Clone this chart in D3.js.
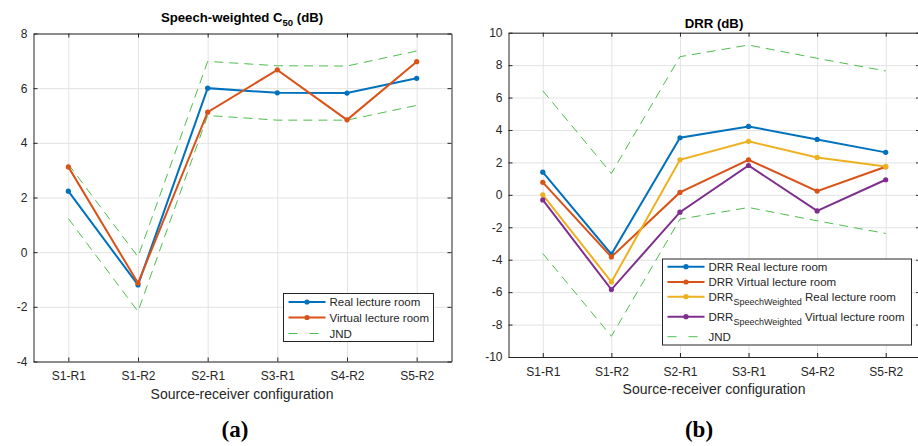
<!DOCTYPE html>
<html>
<head>
<meta charset="utf-8">
<script src="https://cdn.jsdelivr.net/npm/d3@7"></script>
<style>
  body { margin: 0; background: #fff; }
  svg { display: block; }
</style>
</head>
<body>
<svg id="chart" width="918" height="446" font-family="'Liberation Sans', Arial, Helvetica, sans-serif"></svg>
<script>
// ---------- data ----------
const categories = ["S1-R1", "S1-R2", "S2-R1", "S3-R1", "S4-R2", "S5-R2"];

// (a) Speech-weighted C50 (dB)
const c50Real    = [2.23, -1.20, 6.00, 5.83, 5.82, 6.36];
const c50Virtual = [3.12, -1.13, 5.12, 6.67, 4.84, 6.97];
const c50JndUpper = [3.22, -0.17, 6.98, 6.82, 6.81, 7.36];
const c50JndLower = [1.23, -2.17, 5.00, 4.83, 4.83, 5.37];
const c50Ticks = [-4, -2, 0, 2, 4, 6, 8];

// (b) DRR (dB)
const drrReal      = [1.40, -3.66, 3.52, 4.22, 3.42, 2.62];
const drrVirtual   = [0.77, -3.83, 0.15, 2.16, 0.23, 1.73];
const drrSwReal    = [0.00, -5.37, 2.16, 3.30, 2.31, 1.75];
const drrSwVirtual = [-0.31, -5.84, -1.07, 1.81, -0.99, 0.93];
const drrJndUpper  = [6.42, 1.32, 8.52, 9.24, 8.42, 7.64];
const drrJndLower  = [-3.62, -8.72, -1.50, -0.78, -1.60, -2.38];
const drrTicks = [-10, -8, -6, -4, -2, 0, 2, 4, 6, 8, 10];

const colors = { blue: "#0072BD", orange: "#D95319", yellow: "#EDB120", purple: "#7E2F8E", green: "#4DBE4D" };
const ink = "#262626";
const sans = "'Liberation Sans', Arial, Helvetica, sans-serif";
const serif = "'Liberation Serif', 'DejaVu Serif', serif";

const svg = d3.select("#chart");

function panel(opt) {
  const { x0, x1, y0, y1, yDomain, yTicks, series, jnd } = opt;
  const x = d3.scaleLinear().domain([0.5, categories.length + 0.5]).range([x0, x1]);
  const y = d3.scaleLinear().domain(yDomain).range([y1, y0]);
  const w = x1 - x0, h = y1 - y0;
  const g = svg.append("g");

  // grid
  const gg = g.append("g");
  gg.append("g").attr("transform", `translate(${x0},0)`)
    .call(d3.axisLeft(y).tickValues(yTicks).tickSize(-w).tickFormat(""))
    .call(s => s.select(".domain").remove())
    .selectAll("line").attr("stroke", "#e3e3e3");
  gg.append("g").attr("transform", `translate(0,${y1})`)
    .call(d3.axisBottom(x).tickValues(d3.range(1, categories.length + 1)).tickSize(-h).tickFormat(""))
    .call(s => s.select(".domain").remove())
    .selectAll("line").attr("stroke", "#e3e3e3");

  // axes (inward ticks)
  const axL = g.append("g").attr("transform", `translate(${x0},0)`)
    .call(d3.axisLeft(y).tickValues(yTicks).tickSizeInner(-4).tickSizeOuter(0).tickPadding(6).tickFormat(d => String(d)));
  const axR = g.append("g").attr("transform", `translate(${x1},0)`)
    .call(d3.axisRight(y).tickValues(yTicks).tickSizeInner(-4).tickSizeOuter(0).tickFormat(""));
  const axB = g.append("g").attr("transform", `translate(0,${y1})`)
    .call(d3.axisBottom(x).tickValues(d3.range(1, categories.length + 1)).tickSizeInner(-4).tickSizeOuter(0).tickPadding(10)
      .tickFormat(d => categories[d - 1]));
  const axT = g.append("g").attr("transform", `translate(0,${y0})`)
    .call(d3.axisTop(x).tickValues(d3.range(1, categories.length + 1)).tickSizeInner(-4).tickSizeOuter(0).tickFormat(""));
  [axL, axR, axB, axT].forEach(a => {
    a.attr("font-family", sans).attr("font-size", 12);
    a.select(".domain").attr("stroke", ink).attr("stroke-width", 1);
    a.selectAll(".tick line").attr("stroke", ink);
    a.selectAll(".tick text").attr("fill", ink);
  });

  const line = d3.line().x((d, i) => x(i + 1)).y(d => y(d));

  // JND
  jnd.forEach(arr => {
    g.append("path").datum(arr).attr("d", line).attr("fill", "none")
      .attr("stroke", colors.green).attr("stroke-width", 1).attr("stroke-dasharray", "9,6");
  });
  // series
  series.forEach(s => {
    g.append("path").datum(s.values).attr("d", line).attr("fill", "none")
      .attr("stroke", s.color).attr("stroke-width", 2);
    g.selectAll(null).data(s.values).enter().append("circle")
      .attr("cx", (d, i) => x(i + 1)).attr("cy", d => y(d)).attr("r", 2.6)
      .attr("fill", s.color);
  });
  return { x, y, g };
}

// ---------- panel (a) ----------
panel({
  x0: 33.5, x1: 451.5, y0: 33.5, y1: 361.5, yDomain: [-4, 8], yTicks: c50Ticks,
  series: [{ values: c50Real, color: colors.blue }, { values: c50Virtual, color: colors.orange }],
  jnd: [c50JndUpper, c50JndLower]
});
const tA = svg.append("text").attr("x", 242).attr("y", 22).attr("text-anchor", "middle")
  .attr("font-size", 13.2).attr("font-weight", "bold").attr("fill", "#000");
tA.append("tspan").text("Speech-weighted C");
tA.append("tspan").attr("font-size", 9.5).attr("dy", 4).text("50");
tA.append("tspan").attr("dy", -4).text(" (dB)");
svg.append("text").attr("x", 242).attr("y", 399).attr("text-anchor", "middle").attr("font-size", 14).attr("fill", ink)
  .text("Source-receiver configuration");
svg.append("text").attr("x", 235).attr("y", 437).attr("text-anchor", "middle").attr("font-size", 23)
  .attr("font-weight", "bold").attr("font-family", serif).attr("fill", "#000").text("(a)");

// ---------- panel (b) ----------
panel({
  x0: 508.5, x1: 920, y0: 32.7, y1: 357, yDomain: [-10, 10], yTicks: drrTicks,
  series: [
    { values: drrReal, color: colors.blue }, { values: drrVirtual, color: colors.orange },
    { values: drrSwReal, color: colors.yellow }, { values: drrSwVirtual, color: colors.purple }
  ],
  jnd: [drrJndUpper, drrJndLower]
});
svg.append("text").attr("x", 714).attr("y", 28).attr("text-anchor", "middle")
  .attr("font-size", 13.2).attr("font-weight", "bold").attr("fill", "#000").text("DRR (dB)");
svg.append("text").attr("x", 714).attr("y", 394).attr("text-anchor", "middle").attr("font-size", 14).attr("fill", ink)
  .text("Source-receiver configuration");
svg.append("text").attr("x", 699).attr("y", 437).attr("text-anchor", "middle").attr("font-size", 23)
  .attr("font-weight", "bold").attr("font-family", serif).attr("fill", "#000").text("(b)");

// ---------- legends ----------
function legend(box, rows) {
  const g = svg.append("g");
  g.append("rect").attr("x", box.x).attr("y", box.y).attr("width", box.w).attr("height", box.h)
    .attr("fill", "#fff").attr("stroke", ink).attr("stroke-width", 1);
  rows.forEach(r => {
    const lx0 = box.x + 5, lx1 = box.x + 42;
    g.append("line").attr("x1", lx0).attr("x2", lx1).attr("y1", r.y).attr("y2", r.y)
      .attr("stroke", r.color).attr("stroke-width", r.dash ? 1 : 2)
      .attr("stroke-dasharray", r.dash ? "9,12" : null);
    if (!r.dash) g.append("circle").attr("cx", (lx0 + lx1) / 2).attr("cy", r.y).attr("r", 2.6).attr("fill", r.color);
    const t = g.append("text").attr("x", box.x + 46).attr("y", r.y + 4).attr("font-size", 11.5).attr("fill", ink);
    if (r.sub) {
      t.append("tspan").text(r.pre);
      t.append("tspan").attr("font-size", 9).attr("dy", 4).text(r.sub);
      t.append("tspan").attr("dy", -4).text(" " + r.post);
    } else t.text(r.label);
  });
}
legend({ x: 283.5, y: 293.5, w: 150, h: 48 }, [
  { y: 302, color: colors.blue, label: "Real lecture room" },
  { y: 317.5, color: colors.orange, label: "Virtual lecture room" },
  { y: 333.5, color: colors.green, label: "JND", dash: true }
]);
legend({ x: 662.5, y: 259, w: 249, h: 86 }, [
  { y: 266.7, color: colors.blue, label: "DRR Real lecture room" },
  { y: 282, color: colors.orange, label: "DRR Virtual lecture room" },
  { y: 296.7, color: colors.yellow, sub: "SpeechWeighted", pre: "DRR", post: "Real lecture room" },
  { y: 316.7, color: colors.purple, sub: "SpeechWeighted", pre: "DRR", post: "Virtual lecture room" },
  { y: 336.7, color: colors.green, label: "JND", dash: true }
]);
</script>
</body>
</html>
